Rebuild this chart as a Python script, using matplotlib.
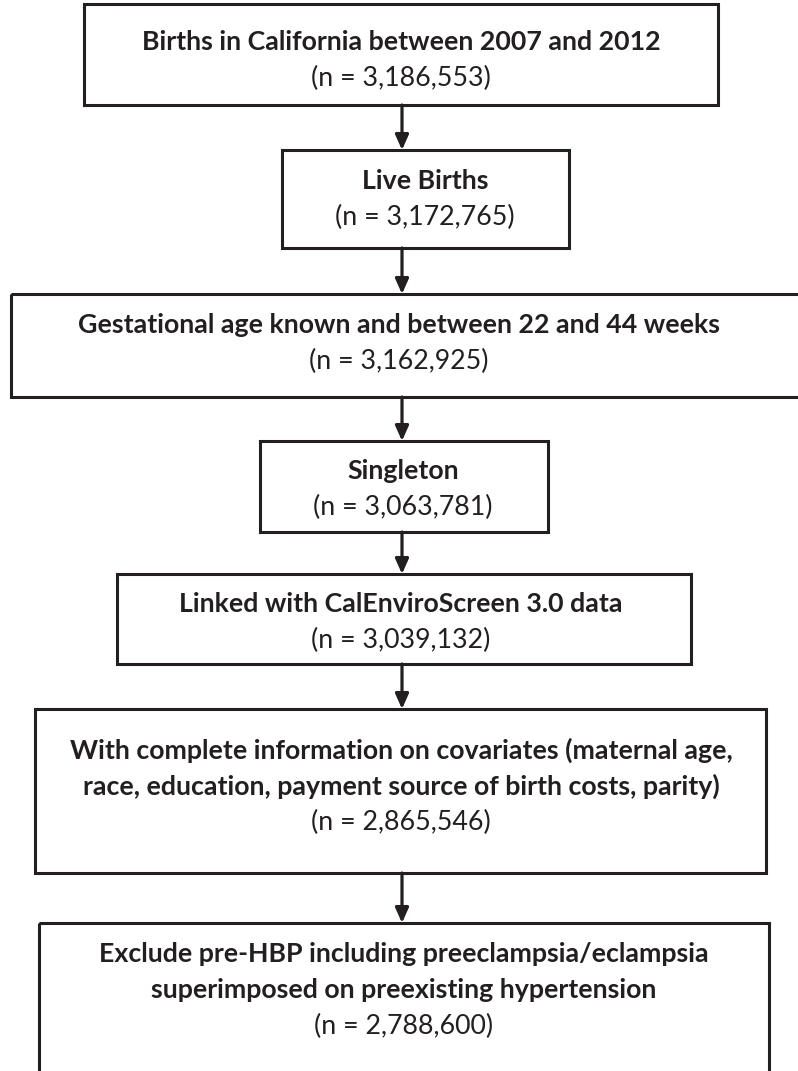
import matplotlib.pyplot as plt
from matplotlib.patches import Rectangle

# Flowchart content
titles = [
    ["Births in California between 2007 and 2012"],
    ["Live Births"],
    ["Gestational age known and between 22 and 44 weeks"],
    ["Singleton"],
    ["Linked with CalEnviroScreen 3.0 data"],
    ["With complete information on covariates (maternal age,",
     "race, education, payment source of birth costs, parity)"],
    ["Exclude pre-HBP including preeclampsia/eclampsia",
     "superimposed on preexisting hypertension"],
]
counts = [3186553, 3172765, 3162925, 3063781, 3039132, 2865546, 2788600]

# Layout in pixel units: (left, top, right, bottom, text centre x, first line y)
boxes = [
    (84, 4, 718, 105, 401, 42),
    (282, 150, 569, 248, 425, 181),
    (11, 294, 801, 397, 399, 325),
    (260, 441, 548, 532, 403, 471),
    (117, 574, 691, 664, 401, 604),
    (35, 709, 766, 873, 401, 750),
    (39, 923, 769, 1100, 404, 954),
]

W, H = 798, 1071
INK = "#231f20"
FONT = "Lato"
FS = 19.3
LINE = 36

fig = plt.figure(figsize=(W / 100, H / 100), dpi=100)
ax = fig.add_axes([0, 0, 1, 1])
ax.set_xlim(0, W)
ax.set_ylim(H, 0)
ax.axis("off")

ax_x = 402  # arrow column
for i, (l, t, r, b, tx, ty) in enumerate(boxes):
    ax.add_patch(Rectangle((l, t), r - l, b - t, fill=False,
                           edgecolor=INK, linewidth=2.2, joinstyle="miter"))
    y = ty
    for line in titles[i]:
        ax.text(tx, y, line, ha="center", va="center", fontsize=FS,
                fontweight="bold", color=INK, family=FONT)
        y += LINE
    ax.text(tx, y, f"(n = {counts[i]:,})", ha="center", va="center",
            fontsize=FS, color=INK, family=FONT)

    # arrow to next box
    if i < len(boxes) - 1:
        ax.annotate("", xy=(ax_x, boxes[i + 1][1]), xytext=(ax_x, b),
                    arrowprops=dict(arrowstyle="-|>,head_length=0.9,head_width=0.4",
                                    color=INK, lw=2.3, shrinkA=0, shrinkB=0))

fig.savefig("out.png", dpi=100)
